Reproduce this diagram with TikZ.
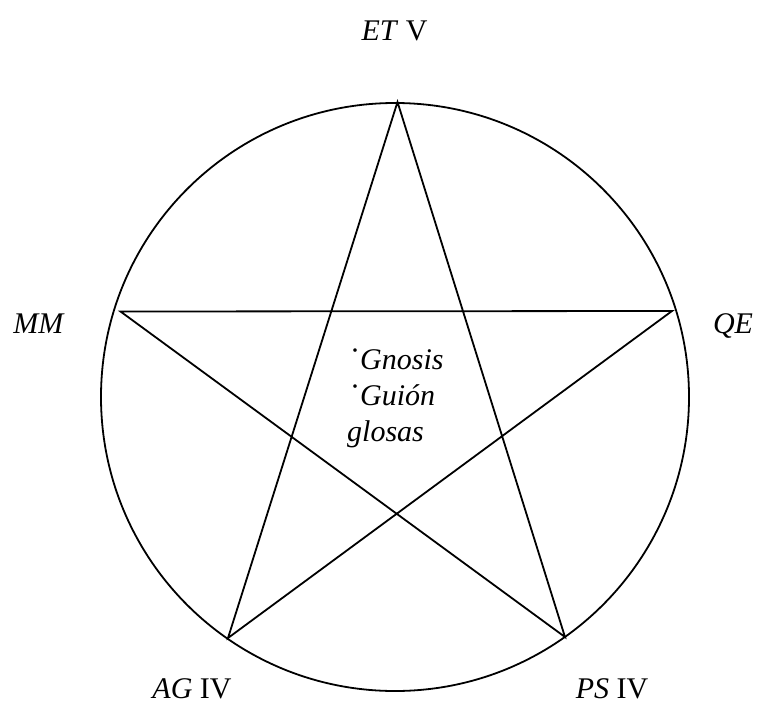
\documentclass[tikz,border=0pt]{standalone}
\usepackage{fontspec}
\setmainfont{Liberation Serif}
\usepackage{tikz}
\tikzset{
  edge/.style={line width=1.8pt},
  ring/.style={circle, draw, line width=1.8pt, minimum size=588pt, inner sep=0pt},
  vlbl/.style={font=\fontsize{30}{36}\selectfont, anchor=base, inner sep=0pt},
  clbl/.style={font=\fontsize{30}{36}\selectfont\itshape, anchor=base west, inner sep=0pt},
  }
\newcommand{\midpt}{\raisebox{0.28em}{\upshape\textperiodcentered}}

\begin{document}
\begin{tikzpicture}[x=1pt,y=-1pt]
  \useasboundingbox (0,0) rectangle (757,704);

  \node[ring] (ring) at (395,397) {};

  \coordinate (et) at (397.5,102);   % top
  \coordinate (mm) at (120.5,311.5); % left
  \coordinate (qe) at (672,311);     % right
  \coordinate (ag) at (228,638);     % bottom left
  \coordinate (ps) at (565,637);     % bottom right

  % five star edges
  \draw[edge,line join=miter] (et)--(ag)--(qe)--(mm)--(ps)--cycle;

  % vertices
  \node[vlbl] (etl) at (394.5,40)  {\textit{ET} V};
  \node[vlbl] (mml) at (39,333)    {\textit{MM}};
  \node[vlbl] (qel) at (733,333)   {\textit{QE}};
  \node[vlbl] (agl) at (192,698)   {\textit{AG} IV};
  \node[vlbl] (psl) at (612,698)   {\textit{PS} IV};

  % centre
  \node[clbl] (gnosis) at (350,369) {\midpt Gnosis};
  \node[clbl] (guion)  at (350,405) {\midpt Guión};
  \node[clbl] (glosas) at (347,441) {glosas};
\end{tikzpicture}
\end{document}
